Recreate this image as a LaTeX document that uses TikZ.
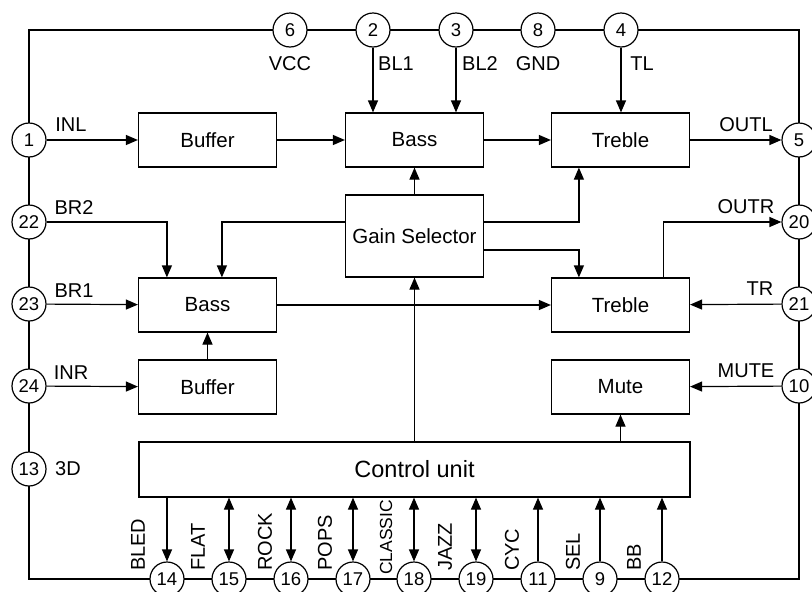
\documentclass[tikz,border=0pt]{standalone}
\usepackage{fontspec}
\setmainfont{Liberation Sans}
\usetikzlibrary{arrows.meta,calc}
\begin{document}
\begin{tikzpicture}[x=1pt,y=-1pt,
  frame/.style={line width=2.8pt},
  pin/.style={circle,draw,line width=1.2pt,fill=white,minimum size=34pt,inner sep=0pt,font=\fontsize{18.5}{19}\selectfont},
  blk/.style={draw,line width=1.2pt,minimum width=138pt,minimum height=54pt,inner sep=0pt,font=\fontsize{20.5}{22}\selectfont},
  lbl/.style={inner sep=0pt,font=\fontsize{20}{22}\selectfont},
  vlbl/.style={inner sep=0pt,font=\fontsize{20}{22}\selectfont,rotate=90,anchor=west},
  con/.style={line width=1.2pt},
  arr/.style={con,-{Triangle[length=12pt,width=10pt]}},
  barr/.style={con,{Triangle[length=12pt,width=10pt]}-{Triangle[length=12pt,width=10pt]}},
]
\useasboundingbox (0,0) rectangle (812,592);
% frame
\draw[frame] (29,30) rectangle (799,579);
% pins top
\node[pin] (p6) at (290,30) {6};
\node[pin] (p2) at (373,30) {2};
\node[pin] (p3) at (456,30) {3};
\node[pin] (p8) at (538,30) {8};
\node[pin] (p4) at (621,30) {4};
% pins left
\node[pin] (p1) at (29,140) {1};
\node[pin] (p22) at (29,222) {22};
\node[pin] (p23) at (29,304) {23};
\node[pin] (p24) at (29,386) {24};
\node[pin] (p13) at (29,469) {13};
% pins right
\node[pin] (p5) at (799,140) {5};
\node[pin] (p20) at (799,222) {20};
\node[pin] (p21) at (799,304) {21};
\node[pin] (p10) at (799,386) {10};
% pins bottom
\node[pin] (p14) at (167,579) {14};
\node[pin] (p15) at (229,579) {15};
\node[pin] (p16) at (291,579) {16};
\node[pin] (p17) at (353,579) {17};
\node[pin] (p18) at (414,579) {18};
\node[pin] (p19) at (476,579) {19};
\node[pin] (p11) at (538,579) {11};
\node[pin] (p9) at (600,579) {9};
\node[pin] (p12) at (662,579) {12};
% blocks
\node[blk] (bufL) at (207.5,140) {Buffer};
\node[blk] (bassL) at (414.5,140) {Bass};
\node[blk] (trebL) at (620.5,140) {Treble};
\node[blk,minimum height=82pt] (gain) at (414.5,236) {Gain Selector};
\node[blk] (bassR) at (207.5,305) {Bass};
\node[blk] (trebR) at (620.5,305) {Treble};
\node[blk] (bufR) at (207.5,387) {Buffer};
\node[blk] (mute) at (620.5,387) {Mute};
\node[blk,minimum width=551pt,minimum height=55pt,font=\fontsize{23.5}{25}\selectfont] (ctrl) at (414.5,469.5) {Control unit};
% labels
\node[lbl] (lINL) at (71,125) {INL};
\node[lbl] (lVCC) at (290,64) {VCC};
\node[lbl] (lBL1) at (396,64) {BL1};
\node[lbl] (lBL2) at (480,64) {BL2};
\node[lbl] (lGND) at (538,64) {GND};
\node[lbl] (lTL) at (642,64) {TL};
\node[lbl] (lOUTL) at (746,125) {OUTL};
\node[lbl] (lBR2) at (74,208) {BR2};
\node[lbl] (lBR1) at (74,291) {BR1};
\node[lbl] (lINR) at (71,373) {INR};
\node[lbl] (l3D) at (68,469) {3D};
\node[lbl] (lOUTR) at (746,207) {OUTR};
\node[lbl] (lTR) at (760,289) {TR};
\node[lbl] (lMUTE) at (746,371) {MUTE};
\node[vlbl] (lBLED) at (138,571) {BLED};
\node[vlbl] (lFLAT) at (198,571) {FLAT};
\node[vlbl] (lROCK) at (265,571) {ROCK};
\node[vlbl] (lPOPS) at (325,571) {POPS};
\node[vlbl,font=\fontsize{17.5}{18}\selectfont] (lCLASSIC) at (386,575) {CLASSIC};
\node[vlbl] (lJAZZ) at (445,571) {JAZZ};
\node[vlbl] (lCYC) at (512,571) {CYC};
\node[vlbl] (lSEL) at (573,571) {SEL};
\node[vlbl] (lBB) at (634,571) {BB};
% left channel
\draw[arr] (p1) -- (bufL);
\draw[arr] (bufL) -- (bassL);
\draw[arr] (bassL) -- (trebL);
\draw[arr] (trebL) -- (p5);
\draw[arr] (p2) -- (p2 |- bassL.north);
\draw[arr] (p3) -- (p3 |- bassL.north);
\draw[arr] (p4) -- (p4 |- trebL.north);
% gain selector
\draw[arr] (gain) -- (bassL);
\draw[arr] (gain.east |- p22) -| ($(trebL.south west)+(28,0)$);
\draw[arr] (gain.west |- p22) -| ($(bassR.north west)+(84,0)$);
\draw[arr] ($(gain.east)+(0,14)$) -| ($(trebR.north west)+(28,0)$);
% right channel
\draw[arr] (p22) -| ($(bassR.north west)+(29,0)$);
\draw[arr] (p23) -- (bassR);
\draw[arr] (bufR) -- (bassR);
\draw[arr] (p24) -- (bufR);
\draw[arr] (bassR) -- (trebR);
\draw[arr] ($(trebR.north east)+(-27,0)$) |- (p20);
\draw[arr] (p21) -- (trebR);
\draw[arr] (p10) -- (mute);
% control
\draw[arr] (ctrl.north -| mute) -- (mute);
\draw[arr] (ctrl) -- (gain);
\draw[arr] (p14 |- ctrl.south) -- (p14);
\draw[barr] (p15 |- ctrl.south) -- (p15);
\draw[barr] (p16 |- ctrl.south) -- (p16);
\draw[barr] (p17 |- ctrl.south) -- (p17);
\draw[barr] (p18 |- ctrl.south) -- (p18);
\draw[barr] (p19 |- ctrl.south) -- (p19);
\draw[arr] (p11) -- (p11 |- ctrl.south);
\draw[arr] (p9) -- (p9 |- ctrl.south);
\draw[arr] (p12) -- (p12 |- ctrl.south);
\end{tikzpicture}
\end{document}
